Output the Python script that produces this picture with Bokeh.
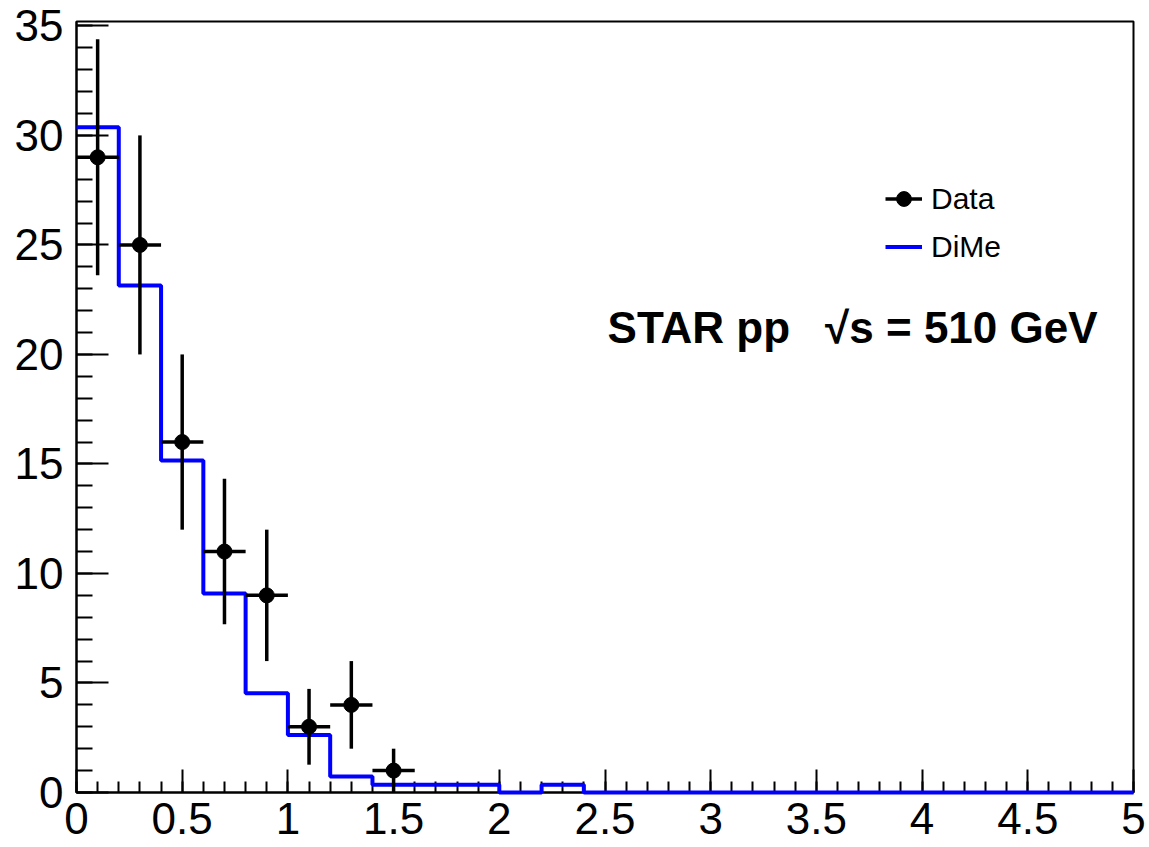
import numpy as np
from bokeh.plotting import figure
from bokeh.models import (Range1d, FixedTicker, CustomJSTickFormatter, Legend,
                          LegendItem, Label, ColumnDataSource)
from bokeh.embed import file_html
from bokeh.resources import INLINE

# ---- data ----
data_x = [0.1, 0.3, 0.5, 0.7, 0.9, 1.1, 1.3, 1.5]
data_y = [29, 25, 16, 11, 9, 3, 4, 1]
data_err = [5.39, 5.0, 4.0, 3.32, 3.0, 1.73, 2.0, 1.0]
data_xerr = [0.1, 0.1, 0.1, 0.1, 0.1, 0.1, 0.1, 0.1]

dime_edges = [0.0, 0.2, 0.4, 0.6, 0.8, 1.0, 1.2, 1.4, 1.6, 1.8, 2.0, 2.2, 2.4,
              2.6, 2.8, 3.0, 3.2, 3.4, 3.6, 3.8, 4.0, 4.2, 4.4, 4.6, 4.8, 5.0]
dime_vals = [30.37, 23.15, 15.16, 9.09, 4.53, 2.63, 0.73, 0.35, 0.35, 0.35,
             0.0, 0.35, 0.0, 0.0, 0.0, 0.0, 0.0, 0.0, 0.0, 0.0, 0.0, 0.0, 0.0, 0.0, 0.0]

x_major = [0, 0.5, 1, 1.5, 2, 2.5, 3, 3.5, 4, 4.5, 5]
x_minor = [round(i * 0.1, 1) for i in range(51)]
y_major = [0, 5, 10, 15, 20, 25, 30, 35]
y_minor = list(range(36))

FONT = "Liberation Sans"

p = figure(width=1149, height=847, x_range=Range1d(0, 5), y_range=Range1d(0, 35.2),
           output_backend="svg", toolbar_location=None,
           min_border_left=76, min_border_right=16, min_border_top=21, min_border_bottom=55)
p.xgrid.visible = False
p.ygrid.visible = False
p.outline_line_color = "black"
p.outline_line_width = 2
p.background_fill_color = "white"
p.border_fill_color = "white"

fmt = CustomJSTickFormatter(code="return String(Math.round(tick*10)/10);")

ax = p.xaxis[0]
ax.ticker = FixedTicker(ticks=x_major, minor_ticks=x_minor)
ax.formatter = fmt
ax.major_tick_in = 23
ax.major_tick_out = 0
ax.minor_tick_in = 11
ax.minor_tick_out = 0
ax.axis_line_width = 2
ax.major_tick_line_width = 2
ax.minor_tick_line_width = 2
ax.major_label_text_font = FONT
ax.major_label_text_font_size = "44px"
ax.major_label_text_color = "black"
ax.major_label_standoff = 10

ay = p.yaxis[0]
ay.ticker = FixedTicker(ticks=y_major, minor_ticks=y_minor)
ay.formatter = fmt
ay.major_tick_in = 32
ay.major_tick_out = 0
ay.minor_tick_in = 16
ay.minor_tick_out = 0
ay.axis_line_width = 2
ay.major_tick_line_width = 2
ay.minor_tick_line_width = 2
ay.major_label_text_font = FONT
ay.major_label_text_font_size = "44px"
ay.major_label_text_color = "black"
ay.major_label_standoff = 13

# ---- DiMe histogram ----
step_x = dime_edges
step_y = dime_vals + [dime_vals[-1]]
step_r = p.step(x=step_x, y=step_y, mode="after", line_color="#0000ff", line_width=4)
step_r.level = "overlay"

# ---- Data points with error bars ----
src = ColumnDataSource(dict(
    x=data_x, y=data_y,
    ylo=[y - e for y, e in zip(data_y, data_err)],
    yhi=[y + e for y, e in zip(data_y, data_err)],
    xlo=[x - e for x, e in zip(data_x, data_xerr)],
    xhi=[x + e for x, e in zip(data_x, data_xerr)],
))
hseg = p.segment(x0="xlo", y0="y", x1="xhi", y1="y", source=src,
                 line_color="black", line_width=3.5)
vseg = p.segment(x0="x", y0="ylo", x1="x", y1="yhi", source=src,
                 line_color="black", line_width=3.5)
dots = p.scatter(x="x", y="y", source=src, marker="circle", size=15,
                 fill_color="black", line_color="black")
for r in (hseg, vseg, dots):
    r.level = "overlay"

legend = Legend(items=[LegendItem(label="Data", renderers=[hseg, dots]),
                       LegendItem(label="DiMe", renderers=[step_r])],
                location=(809, 527), border_line_color=None,
                background_fill_alpha=0, padding=0, margin=0, spacing=11,
                glyph_width=37, glyph_height=37, label_standoff=9,
                label_text_font=FONT, label_text_font_size="30px",
                label_text_color="black")
p.add_layout(legend)

lab1 = Label(x=2.512, y=21.23, text="STAR pp",
             text_font=FONT, text_font_size="44px", text_font_style="bold",
             text_align="left", text_baseline="middle", text_color="black")
lab2 = Label(x=4.830, y=21.23, text="\u221as = 510 GeV",
             text_font=FONT, text_font_size="44px", text_font_style="bold",
             text_align="right", text_baseline="middle", text_color="black")
p.add_layout(lab1)
p.add_layout(lab2)

open("out.html", "w").write(file_html(p, INLINE))
